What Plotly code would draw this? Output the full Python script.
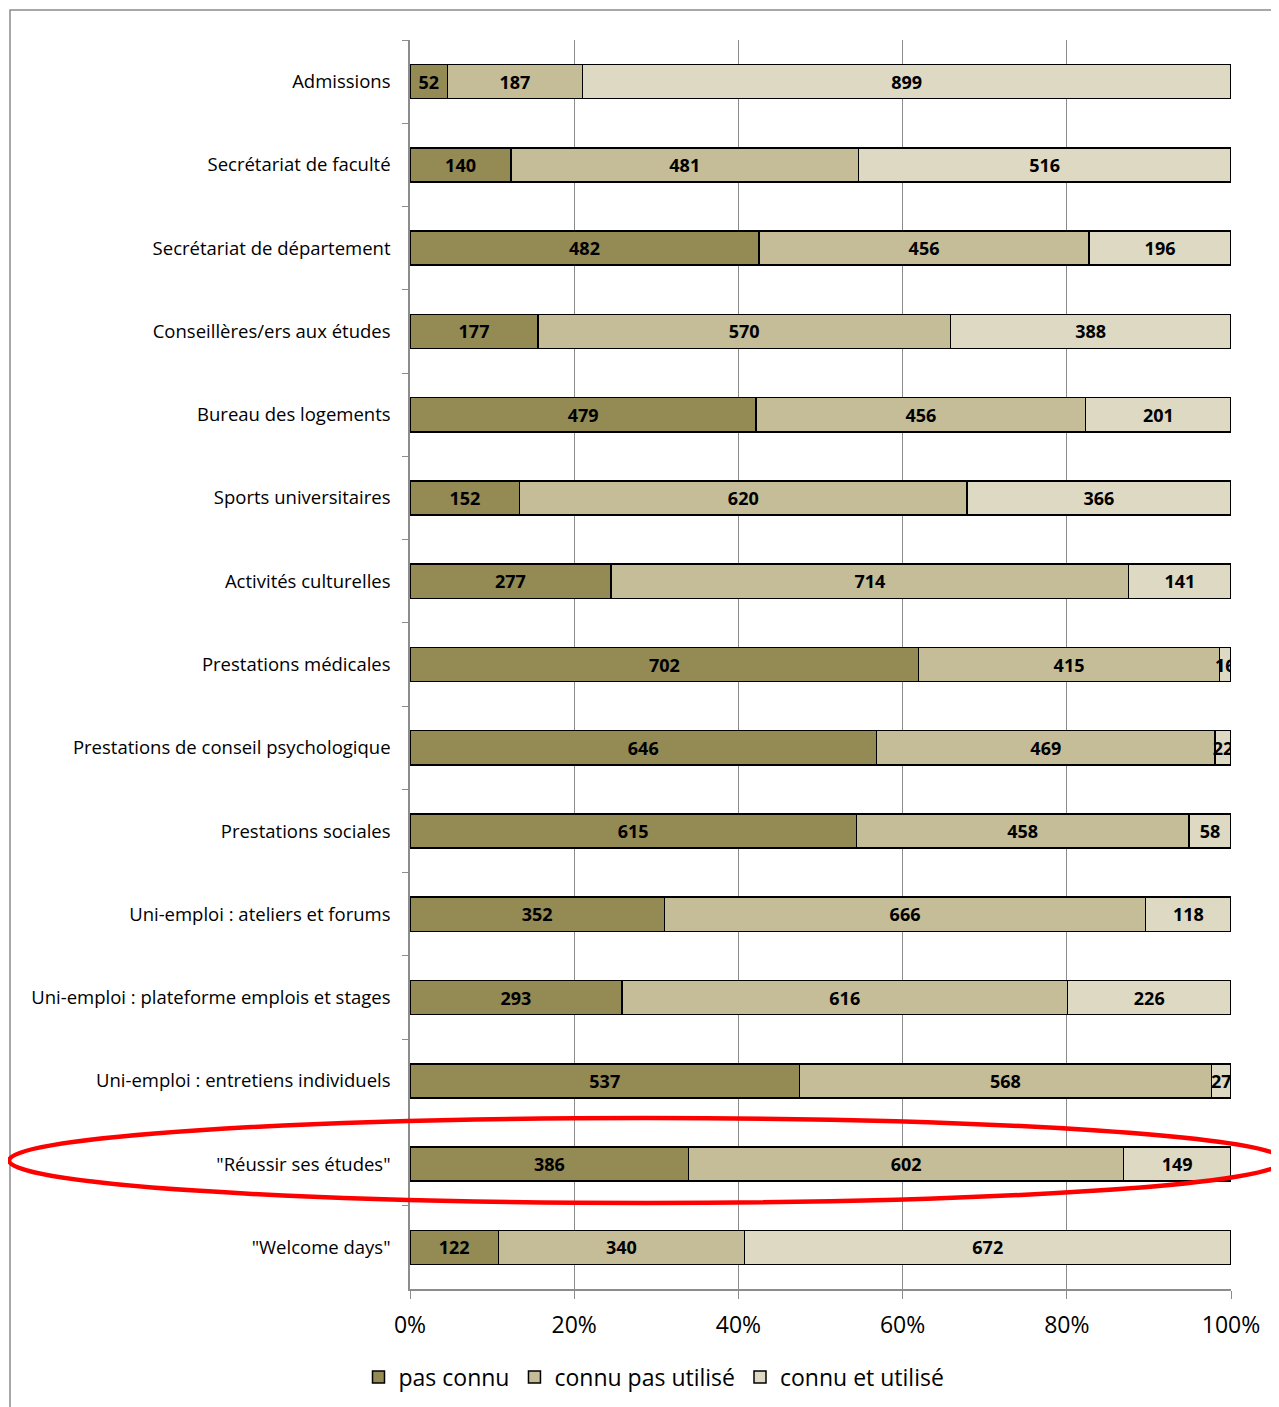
import plotly.graph_objects as go

categories = [
    "Admissions",
    "Secrétariat de faculté",
    "Secrétariat de département",
    "Conseillères/ers aux études",
    "Bureau des logements",
    "Sports universitaires",
    "Activités culturelles",
    "Prestations médicales",
    "Prestations de conseil psychologique",
    "Prestations sociales",
    "Uni-emploi : ateliers et forums",
    "Uni-emploi : plateforme emplois et stages",
    "Uni-emploi : entretiens individuels",
    "\"Réussir ses études\"",
    "\"Welcome days\"",
]
pas_connu = [52, 140, 482, 177, 479, 152, 277, 702, 646, 615, 352, 293, 537, 386, 122]
connu_pas_utilise = [187, 481, 456, 570, 456, 620, 714, 415, 469, 458, 666, 616, 568, 602, 340]
connu_et_utilise = [899, 516, 196, 388, 201, 366, 141, 16, 22, 58, 118, 226, 27, 149, 672]

series = [
    ("pas connu", pas_connu, "#948A54"),
    ("connu pas utilisé", connu_pas_utilise, "#C4BD97"),
    ("connu et utilisé", connu_et_utilise, "#DDD9C3"),
]

FONT = "Open Sans"
OFF = 8  # browser body margin

fig = go.Figure()
for name, vals, col in series:
    fig.add_trace(go.Bar(
        y=categories, x=vals, name=name, orientation="h",
        marker=dict(color=col, line=dict(color="black", width=1.5)),
        text=[str(v) for v in vals], textposition="inside",
        insidetextanchor="middle", textangle=0, constraintext="none",
        textfont=dict(family=FONT, size=18, color="black", weight="bold"),
        width=0.41,
    ))

# target plot area on the page: x 410..1231, y 40..1289
PX0, PX1, PY0, PY1 = 410, 1231, 40, 1289
L = PX0 - OFF
T = PY0 - OFF
W = PX1 - PX0
H = PY1 - PY0
R = 1279 - L - W
B = 1407 - T - H

def px(x):
    return (x - PX0) / W

def py(y):
    return (PY1 - y) / H

fig.update_layout(
    barmode="stack", barnorm="percent",
    width=1279, height=1407,
    margin=dict(l=L, r=R, t=T, b=B),
    paper_bgcolor="white", plot_bgcolor="white",
    font=dict(family=FONT, color="black"),
    showlegend=True,
    legend=dict(orientation="h", x=px(654), xanchor="center", y=py(1377), yanchor="middle",
                font=dict(family=FONT, size=23), traceorder="normal",
                itemwidth=30, tracegroupgap=0),
    shapes=[
        dict(type="rect", xref="paper", yref="paper",
             x0=px(10), x1=px(1300), y0=py(1430), y1=py(10),
             line=dict(color="#8c8c8c", width=1.5), fillcolor="rgba(0,0,0,0)", layer="below"),
        dict(type="circle", xref="paper", yref="paper",
             x0=px(9), x1=px(1284), y0=py(1203), y1=py(1118),
             line=dict(color="#ff0000", width=4.5), fillcolor="rgba(0,0,0,0)", layer="above"),
    ],
)
fig.update_xaxes(
    range=[0, 100], dtick=20, ticksuffix="%", showgrid=True, gridcolor="#8c8c8c", gridwidth=1,
    ticks="outside", ticklen=8, tickcolor="#8c8c8c", showline=True, linecolor="#8c8c8c", linewidth=2,
    tickfont=dict(family=FONT, size=23), zeroline=False, fixedrange=True, ticklabelstandoff=6,
)
fig.update_yaxes(
    autorange="reversed", ticks="outside", tickson="boundaries", ticklen=6, tickcolor="#8c8c8c",
    showline=True, linecolor="#8c8c8c", linewidth=1.5, showgrid=False,
    tickfont=dict(family=FONT, size=18.5), ticklabelstandoff=14,
)

fig.write_html("out.html")
